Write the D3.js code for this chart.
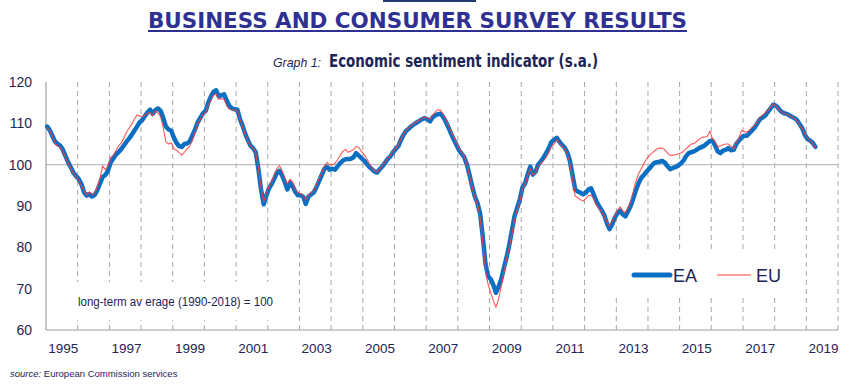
<!DOCTYPE html>
<html>
<head>
<meta charset="utf-8">
<script src="https://cdn.jsdelivr.net/npm/d3@7"></script>
<style>
  body { margin: 0; background: #fff; }
  svg { display: block; }
</style>
</head>
<body>
<div id="chart"></div>
<script>
// monthly values, Jan 1995 .. Apr 2019
var firstYear = 1995;

var eaValues = [
  109.2, 108.3, 107.0, 105.6, 105.0, 104.6, 103.6, 102.0, 100.5, 99.3, 98.0, 97.2, // 1995
  96.5, 95.2, 93.3, 92.5, 92.9, 92.3, 92.7, 93.8, 95.5, 97.0, 97.5, 98.5,         // 1996
  100.5, 101.5, 102.4, 103.0, 103.7, 104.6, 105.5, 106.3, 107.2, 108.2, 109.2, 110.2, // 1997
  110.8, 111.8, 112.6, 113.3, 112.3, 113.2, 113.6, 113.0, 111.2, 109.2, 108.5, 108.2, // 1998
  106.5, 105.2, 104.5, 104.3, 105.0, 105.1, 105.6, 107.0, 108.5, 110.2, 111.3, 112.4, // 1999
  113.0, 115.0, 116.4, 117.6, 118.0, 116.5, 116.8, 117.0, 115.5, 114.2, 113.6, 113.4, // 2000
  113.3, 111.0, 109.5, 107.5, 106.0, 104.6, 104.0, 103.0, 98.9, 94.0, 90.4, 92.5,    // 2001
  94.3, 95.3, 96.5, 98.0, 98.5, 97.4, 95.8, 94.0, 95.6, 94.8, 93.4, 92.6,           // 2002
  92.6, 92.2, 90.5, 92.3, 92.8, 93.3, 94.5, 96.0, 97.5, 99.0, 99.5, 98.8,           // 2003
  99.0, 98.8, 99.6, 100.4, 101.0, 101.3, 101.4, 101.4, 101.8, 102.8, 102.2, 101.6,  // 2004
  101.0, 100.2, 99.5, 98.9, 98.3, 98.1, 98.9, 99.6, 100.5, 101.4, 102.0, 103.0,     // 2005
  103.8, 104.5, 106.0, 107.2, 108.2, 108.7, 109.3, 109.8, 110.2, 110.6, 111.0, 111.3, // 2006
  111.0, 110.5, 111.4, 111.9, 112.2, 112.3, 111.6, 110.4, 109.0, 107.5, 106.1, 104.8, // 2007
  103.5, 102.6, 101.8, 100.0, 97.5, 94.7, 92.3, 90.7, 88.0, 82.5, 76.0, 73.0,        // 2008
  72.3, 70.8, 69.0, 70.5, 72.2, 75.0, 77.5, 80.5, 84.0, 87.5, 89.5, 91.5,            // 2009
  94.5, 95.5, 97.5, 99.5, 97.6, 98.3, 100.0, 100.8, 101.7, 102.8, 104.0, 105.5,      // 2010
  106.0, 106.5, 105.6, 104.8, 104.2, 103.0, 101.0, 97.5, 94.0, 93.5, 93.2, 92.8,     // 2011
  93.2, 94.0, 94.3, 92.8, 91.2, 90.0, 89.0, 87.8, 85.8, 84.4, 85.6, 87.2,            // 2012
  88.3, 88.9, 88.0, 87.5, 88.7, 90.0, 91.8, 93.8, 95.5, 96.8, 97.5, 98.3,            // 2013
  99.0, 99.8, 100.4, 100.6, 100.7, 100.9, 100.5, 99.6, 98.9, 99.2, 99.4, 99.8,       // 2014
  100.3, 101.0, 102.0, 102.8, 103.0, 103.2, 103.6, 104.0, 104.3, 104.6, 105.2, 105.7, // 2015
  105.8, 104.6, 103.2, 102.8, 103.4, 103.6, 104.0, 103.5, 103.6, 105.0, 105.8, 106.6, // 2016
  107.0, 107.0, 107.6, 108.3, 109.0, 110.0, 111.0, 111.4, 111.9, 112.8, 113.6, 114.5, // 2017
  114.3, 113.6, 112.9, 112.5, 112.3, 112.0, 111.6, 111.3, 110.8, 109.8, 108.8, 107.2, // 2018
  106.2, 105.8, 105.3, 104.3                                                          // 2019
];

var euValues = [
  109.0, 108.2, 106.8, 105.3, 104.5, 104.2, 103.2, 101.8, 100.3, 99.0, 97.8, 97.0,
  96.3, 94.8, 93.6, 92.6, 93.4, 92.8, 93.0, 94.6, 96.8, 99.7, 98.8, 99.6,
  101.8, 102.2, 103.3, 104.5, 105.2, 106.3, 107.8, 108.8, 109.8, 111.0, 112.0, 111.8,
  111.6, 112.0, 112.4, 112.6, 112.0, 113.0, 112.5, 111.6, 108.8, 105.5, 105.0, 105.3,
  103.8, 103.5, 102.9, 102.3, 103.0, 103.8, 104.5, 105.8, 107.8, 109.8, 111.0, 112.2,
  112.6, 114.4, 115.6, 116.8, 117.2, 115.8, 116.0, 115.8, 114.2, 113.4, 113.3, 113.3,
  113.0, 111.0, 109.3, 107.3, 105.8, 104.5, 104.0, 103.0, 99.0, 94.5, 91.0, 93.0,
  94.8, 96.0, 97.5, 99.0, 99.8, 98.5, 96.8, 95.3, 96.5, 95.8, 94.0, 93.2,
  93.0, 92.5, 91.5, 92.7, 93.2, 93.6, 95.0, 96.5, 98.0, 99.7, 100.5, 100.0,
  100.0, 100.3, 101.2, 102.3, 103.2, 103.7, 103.0, 103.3, 103.6, 104.4, 104.2, 103.2,
  102.5, 101.5, 100.3, 99.3, 98.5, 98.2, 99.0, 99.8, 100.7, 101.6, 102.3, 103.3,
  104.0, 104.7, 106.2, 107.4, 108.4, 108.9, 109.5, 110.0, 110.4, 110.8, 111.2, 111.5,
  111.3, 111.0, 112.0, 112.7, 113.3, 113.2, 112.2, 110.9, 109.5, 108.0, 106.7, 105.3,
  104.0, 103.0, 102.0, 100.0, 97.3, 94.5, 92.0, 90.3, 87.0, 81.0, 74.5, 71.0,
  69.0, 67.0, 65.5, 67.5, 70.5, 74.0, 77.0, 80.0, 83.0, 86.5, 89.0, 91.0,
  94.3, 95.2, 97.2, 99.0, 97.5, 98.0, 99.7, 100.3, 101.0, 101.8, 103.0, 104.5,
  105.0, 106.0, 105.3, 104.5, 103.8, 102.6, 100.5, 96.5, 92.4, 92.0, 91.5, 91.2,
  91.8, 92.5, 92.6, 91.8, 90.2, 89.5, 88.5, 87.5, 86.0, 85.2, 86.3, 87.6,
  89.0, 89.8, 88.8, 88.3, 89.5, 91.0, 93.5, 96.0, 97.8, 99.0, 100.3, 101.3,
  102.2, 102.8, 103.3, 103.8, 104.0, 104.0, 103.6, 102.8, 102.2, 102.3, 102.4, 102.6,
  102.8, 103.2, 103.8, 104.4, 105.0, 105.1, 105.6, 106.2, 106.6, 106.7, 106.8, 108.1,
  106.3, 105.5, 104.3, 104.6, 104.8, 105.0, 105.0, 104.5, 103.8, 105.4, 106.4, 108.3,
  108.0, 107.9, 108.3, 109.0, 109.6, 110.3, 111.5, 112.0, 112.6, 113.1, 113.9, 114.7,
  114.2, 113.4, 112.9, 112.4, 112.2, 112.0, 111.6, 111.2, 110.5, 109.6, 108.8, 107.3,
  106.4, 105.8, 105.2, 104.0
];

var yTicks = [60, 70, 80, 90, 100, 110, 120];
var xLabelYears = [1995, 1997, 1999, 2001, 2003, 2005, 2007, 2009, 2011, 2013, 2015, 2017, 2019];
var gridYears = [1996, 1997, 1998, 1999, 2000, 2001, 2002, 2003, 2004, 2005, 2006, 2007,
  2008, 2009, 2010, 2011, 2012, 2013, 2014, 2015, 2016, 2017, 2018, 2019, 2020];

var navy = "#1c2556";
var narrow = "'Liberation Sans Narrow', 'DejaVu Sans Condensed', sans-serif";
var regular = "'Liberation Sans', Arial, sans-serif";

function toPoints(values) {
  return values.map((v, i) => ({ date: new Date(firstYear, i, 15), value: v }));
}

let dim = { width: 849, height: 387 };
let plot = { left: 46, right: 838, top: 82, bottom: 330 };

let svg = d3
  .select("#chart")
  .append("svg")
  .attr("width", dim.width)
  .attr("height", dim.height)
  .style("font-family", regular);

let x = d3
  .scaleTime()
  .domain([new Date(firstYear, 0, 1), new Date(2020, 0, 1)])
  .range([plot.left, plot.right]);

let y = d3.scaleLinear().domain([60, 120]).range([plot.bottom, plot.top]);

// header
svg.append("rect")
  .attr("x", 383).attr("y", 0).attr("width", 93).attr("height", 2)
  .attr("fill", "#1f3a6e");

svg.append("text")
  .attr("x", 148).attr("y", 28)
  .attr("textLength", 539).attr("lengthAdjust", "spacingAndGlyphs")
  .style("font-family", narrow).style("font-weight", "bold").style("font-size", "22px")
  .attr("fill", "#2e3192")
  .text("BUSINESS AND CONSUMER SURVEY RESULTS");

svg.append("rect")
  .attr("x", 148).attr("y", 30).attr("width", 539).attr("height", 2)
  .attr("fill", "#2e3192");

svg.append("text")
  .attr("x", 273).attr("y", 67)
  .attr("textLength", 48).attr("lengthAdjust", "spacingAndGlyphs")
  .style("font-style", "italic").style("font-size", "13px")
  .attr("fill", navy)
  .text("Graph 1:");

svg.append("text")
  .attr("x", 329).attr("y", 67)
  .attr("textLength", 269).attr("lengthAdjust", "spacingAndGlyphs")
  .style("font-family", narrow).style("font-weight", "bold").style("font-size", "17px")
  .attr("fill", navy)
  .text("Economic sentiment indicator (s.a.)");

let g = svg.append("g");

// year separators
g.selectAll("line.grid")
  .data(gridYears)
  .join("line")
  .attr("class", "grid")
  .attr("x1", (d) => x(new Date(d, 0, 1)))
  .attr("x2", (d) => x(new Date(d, 0, 1)))
  .attr("y1", plot.top)
  .attr("y2", plot.bottom)
  .attr("stroke", "#a6a6a6")
  .attr("stroke-width", 1)
  .attr("stroke-dasharray", "5,4");

// long-term average line
g.append("line")
  .attr("x1", plot.left).attr("x2", plot.right)
  .attr("y1", y(100)).attr("y2", y(100))
  .attr("stroke", "#bfbfbf").attr("stroke-width", 1.2);

// axes lines
g.append("line")
  .attr("x1", plot.left).attr("x2", plot.left)
  .attr("y1", plot.top).attr("y2", plot.bottom)
  .attr("stroke", "#a0a0a0").attr("stroke-width", 1.2);
g.append("line")
  .attr("x1", plot.left).attr("x2", plot.right)
  .attr("y1", plot.bottom).attr("y2", plot.bottom)
  .attr("stroke", "#a0a0a0").attr("stroke-width", 1.2);

// tick labels
svg.selectAll("text.ytick")
  .data(yTicks)
  .join("text")
  .attr("class", "ytick")
  .attr("x", 32)
  .attr("y", (d) => y(d) + 5)
  .attr("text-anchor", "end")
  .style("font-size", "14px")
  .attr("fill", navy)
  .text((d) => d);

svg.selectAll("text.xtick")
  .data(xLabelYears)
  .join("text")
  .attr("class", "xtick")
  .attr("x", (d) => x(new Date(d, 6, 1)) + 1.5)
  .attr("y", 353)
  .attr("text-anchor", "middle")
  .style("font-size", "13.5px")
  .attr("fill", navy)
  .text((d) => d);

// note box
svg.append("rect")
  .attr("x", 71).attr("y", 282).attr("width", 214).attr("height", 38)
  .attr("fill", "#fff");
svg.append("text")
  .attr("x", 78).attr("y", 306)
  .attr("textLength", 195).attr("lengthAdjust", "spacingAndGlyphs")
  .style("font-size", "12.5px")
  .attr("fill", navy)
  .text("long-term av erage (1990-2018) = 100");

// lines
let line = d3
  .line()
  .x((d) => x(d.date))
  .y((d) => y(d.value));

g.append("path")
  .datum(toPoints(eaValues))
  .attr("d", line)
  .attr("fill", "none")
  .attr("stroke", "#0a6fc2")
  .attr("stroke-width", 4.5)
  .attr("stroke-linejoin", "round")
  .attr("stroke-linecap", "round");

g.append("path")
  .datum(toPoints(euValues))
  .attr("d", line)
  .attr("fill", "none")
  .attr("stroke", "#ff3c3c")
  .attr("stroke-opacity", 0.85)
  .attr("stroke-width", 1.1)
  .attr("stroke-linejoin", "round");

// legend
let legend = svg.append("g");
legend.append("rect")
  .attr("x", 592).attr("y", 252).attr("width", 210).attr("height", 45)
  .attr("fill", "#fff");
legend.append("line")
  .attr("x1", 634).attr("x2", 670).attr("y1", 275).attr("y2", 275)
  .attr("stroke", "#0a6fc2").attr("stroke-width", 5).attr("stroke-linecap", "round");
legend.append("text")
  .attr("x", 673).attr("y", 282)
  .style("font-size", "18px").attr("fill", navy)
  .text("EA");
legend.append("line")
  .attr("x1", 717).attr("x2", 751).attr("y1", 275).attr("y2", 275)
  .attr("stroke", "#ff3c3c").attr("stroke-width", 1.1);
legend.append("text")
  .attr("x", 756).attr("y", 282)
  .style("font-size", "18px").attr("fill", navy)
  .text("EU");

// source
let src = svg.append("text")
  .attr("x", 10).attr("y", 377)
  .style("font-size", "9.5px")
  .attr("fill", navy);
src.append("tspan").style("font-style", "italic").text("source:");
src.append("tspan").text(" European Commission services");
</script>
</body>
</html>
